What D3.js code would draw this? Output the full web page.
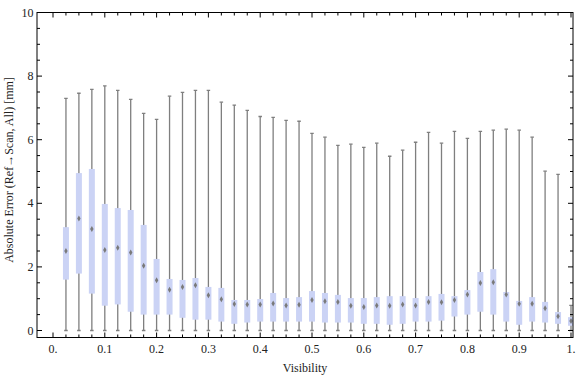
<!DOCTYPE html>
<html>
<head>
<meta charset="utf-8">
<script src="https://cdn.jsdelivr.net/npm/d3@7"></script>
<style>
  body { margin: 0; background: #fff; }
  text { font-family: 'Liberation Serif', 'DejaVu Serif', serif; }
</style>
</head>
<body>
<div id="viz"></div>
<script>
var width = 576;
var height = 377;

// visibility bins (box centres)
var visibility = [0.025, 0.05, 0.075, 0.1, 0.125, 0.15, 0.175, 0.2, 0.225, 0.25,
  0.275, 0.3, 0.325, 0.35, 0.375, 0.4, 0.425, 0.45, 0.475, 0.5,
  0.525, 0.55, 0.575, 0.6, 0.625, 0.65, 0.675, 0.7, 0.725, 0.75,
  0.775, 0.8, 0.825, 0.85, 0.875, 0.9, 0.925, 0.95, 0.975, 1.0];

// whisker max
var maxValues = [7.30, 7.46, 7.58, 7.69, 7.55, 7.27, 6.83, 6.64, 7.37, 7.49,
  7.55, 7.55, 7.18, 7.09, 6.92, 6.73, 6.70, 6.61, 6.58, 6.20,
  6.08, 5.82, 5.86, 5.76, 5.89, 5.48, 5.67, 5.92, 6.23, 5.89,
  6.26, 6.04, 6.26, 6.30, 6.33, 6.30, 6.08, 5.01, 4.91, 0.79];

// upper quartile
var q3Values = [3.25, 4.95, 5.08, 3.98, 3.85, 3.79, 3.32, 2.25, 1.62, 1.59,
  1.65, 1.37, 1.34, 0.96, 0.96, 0.99, 1.18, 1.02, 1.05, 1.24,
  1.18, 1.12, 1.02, 1.02, 1.05, 1.08, 1.08, 1.02, 1.08, 1.15,
  1.08, 1.27, 1.84, 1.93, 1.21, 0.93, 1.05, 0.90, 0.58, 0.42];

// median
var medianValues = [2.50, 3.52, 3.19, 2.53, 2.60, 2.45, 2.04, 1.58, 1.28, 1.37,
  1.42, 1.11, 0.98, 0.83, 0.82, 0.82, 0.85, 0.79, 0.81, 0.96,
  0.92, 0.90, 0.78, 0.74, 0.79, 0.78, 0.82, 0.79, 0.90, 0.89,
  0.96, 1.13, 1.49, 1.52, 1.13, 0.84, 0.84, 0.70, 0.45, 0.30];

// lower quartile
var q1Values = [1.60, 1.79, 1.16, 0.78, 0.82, 0.59, 0.50, 0.50, 0.50, 0.40,
  0.34, 0.34, 0.28, 0.21, 0.25, 0.28, 0.28, 0.28, 0.28, 0.28,
  0.25, 0.25, 0.25, 0.21, 0.21, 0.18, 0.21, 0.28, 0.28, 0.31,
  0.44, 0.50, 0.59, 0.50, 0.28, 0.18, 0.28, 0.25, 0.21, 0.15];

// whisker min
var minValues = visibility.map(function () { return 0; });

var xTicks = [0, 0.1, 0.2, 0.3, 0.4, 0.5, 0.6, 0.7, 0.8, 0.9, 1.0];
var xTickLabels = ['0.', '0.1', '0.2', '0.3', '0.4', '0.5', '0.6', '0.7', '0.8', '0.9', '1.'];
var yTicks = [0, 2, 4, 6, 8, 10];

var boxes = visibility.map(function (v, i) {
  return { v: v, min: minValues[i], q1: q1Values[i], med: medianValues[i], q3: q3Values[i], max: maxValues[i] };
});

var x = d3.scaleLinear().domain([0, 1]).range([53, 571]);
var y = d3.scaleLinear().domain([0, 10]).range([330.5, 12.5]);

var frame = { left: 37, right: 573, top: 12.5, bottom: 337.5 };

var svg = d3.select('#viz').append('svg')
  .attr('width', width)
  .attr('height', height);

svg.append('clipPath').attr('id', 'plotclip')
  .append('rect')
  .attr('x', frame.left)
  .attr('y', frame.top)
  .attr('width', frame.right - frame.left)
  .attr('height', frame.bottom - frame.top);

var plot = svg.append('g').attr('clip-path', 'url(#plotclip)');

var boxW = 6;
var capW = 3.5;

var g = plot.selectAll('g.box')
  .data(boxes).enter()
  .append('g')
  .attr('class', 'box')
  .attr('transform', function (d) { return 'translate(' + x(d.v) + ',0)'; });

// whisker line
g.append('line')
  .attr('x1', 0).attr('x2', 0)
  .attr('y1', function (d) { return y(d.min); })
  .attr('y2', function (d) { return y(d.max); })
  .style('stroke', '#7f7f7f')
  .style('stroke-width', 1.3);

// caps
g.append('line')
  .attr('x1', -capW / 2).attr('x2', capW / 2)
  .attr('y1', function (d) { return y(d.max); })
  .attr('y2', function (d) { return y(d.max); })
  .style('stroke', '#7f7f7f')
  .style('stroke-width', 1.3);

g.append('line')
  .attr('x1', -capW / 2).attr('x2', capW / 2)
  .attr('y1', function (d) { return y(d.min); })
  .attr('y2', function (d) { return y(d.min); })
  .style('stroke', '#7f7f7f')
  .style('stroke-width', 1.3);

// box
g.append('rect')
  .attr('x', -boxW / 2)
  .attr('width', boxW)
  .attr('y', function (d) { return y(d.q3); })
  .attr('height', function (d) { return y(d.q1) - y(d.q3); })
  .style('fill', '#cbd3f5');

// median diamond
g.append('path')
  .attr('d', function (d) {
    var cy = y(d.med);
    return 'M0,' + (cy - 3) + 'L1.7,' + cy + 'L0,' + (cy + 3) + 'L-1.7,' + cy + 'Z';
  })
  .style('fill', '#7a7a7a');

// frame
svg.append('rect')
  .attr('x', frame.left)
  .attr('y', frame.top)
  .attr('width', frame.right - frame.left)
  .attr('height', frame.bottom - frame.top)
  .style('fill', 'none')
  .style('stroke', '#000')
  .style('stroke-width', 1);

// x ticks: major 0.1, minor 0.025
var xMinor = d3.range(0, 41).map(function (i) { return i * 0.025; });
var ticks = svg.append('g');

xMinor.forEach(function (v, i) {
  var len = (i % 4 === 0) ? 5 : 3;
  ticks.append('line')
    .attr('x1', x(v)).attr('x2', x(v))
    .attr('y1', frame.bottom).attr('y2', frame.bottom - len)
    .style('stroke', '#000');
  ticks.append('line')
    .attr('x1', x(v)).attr('x2', x(v))
    .attr('y1', frame.top).attr('y2', frame.top + len)
    .style('stroke', '#000');
});

// y ticks: major 2, minor 0.5
var yMinor = d3.range(0, 21).map(function (i) { return i * 0.5; });
yMinor.forEach(function (v, i) {
  var len = (i % 4 === 0) ? 5 : 3;
  ticks.append('line')
    .attr('x1', frame.left).attr('x2', frame.left + len)
    .attr('y1', y(v)).attr('y2', y(v))
    .style('stroke', '#000');
  ticks.append('line')
    .attr('x1', frame.right).attr('x2', frame.right - len)
    .attr('y1', y(v)).attr('y2', y(v))
    .style('stroke', '#000');
});

svg.selectAll('text.xt')
  .data(xTicks).enter()
  .append('text')
  .attr('class', 'xt')
  .attr('x', function (d) { return x(d); })
  .attr('y', 353)
  .attr('text-anchor', 'middle')
  .style('font-size', '12px')
  .style('fill', '#222')
  .text(function (d, i) { return xTickLabels[i]; });

svg.selectAll('text.yt')
  .data(yTicks).enter()
  .append('text')
  .attr('class', 'yt')
  .attr('x', 33.5)
  .attr('y', function (d) { return y(d) + 4; })
  .attr('text-anchor', 'end')
  .style('font-size', '12px')
  .style('fill', '#222')
  .text(function (d) { return d; });

svg.append('text')
  .attr('x', 305)
  .attr('y', 372)
  .attr('text-anchor', 'middle')
  .style('font-size', '12px')
  .style('fill', '#222')
  .text('Visibility');

svg.append('text')
  .attr('transform', 'translate(13,170) rotate(-90)')
  .attr('text-anchor', 'middle')
  .style('font-size', '12px')
  .style('fill', '#222')
  .text('Absolute Error (Ref\u2192Scan, All) [mm]');
</script>
</body>
</html>
